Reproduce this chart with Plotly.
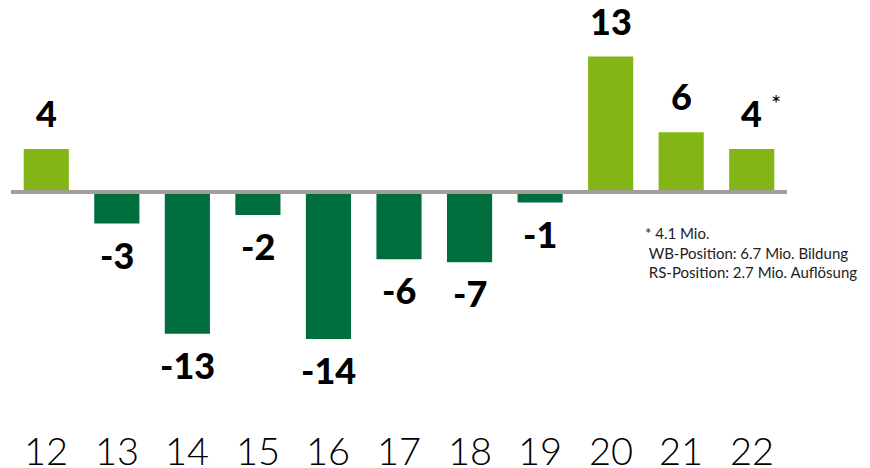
import plotly.graph_objects as go

categories = ["12", "13", "14", "15", "16", "17", "18", "19", "20", "21", "22"]
values = [4.1, -3.0, -13.5, -2.2, -14.0, -6.4, -6.7, -1.0, 12.9, 5.7, 4.1]
value_labels = ["4", "-3", "-13", "-2", "-14", "-6", "-7", "-1", "13", "6", "4"]
footnote_lines = ["* 4.1 Mio.", " WB-Position: 6.7 Mio. Bildung", " RS-Position: 2.7 Mio. Auflösung"]

LIGHT = "#84b516"
DARK = "#006d3f"
colors = [LIGHT if v >= 0 else DARK for v in values]

# page body has an 8px margin; the figure is sized to fit inside the window
OFF = 8
W, H = 870 - OFF, 468 - OFF
L, R, T, B = 11 - OFF, 870 - 787, 0, 40
plot_w, plot_h = W - L - R, H - T - B
zero_px = 192 - OFF
px_per_unit = 10.5

fig = go.Figure()
fig.add_trace(go.Bar(
    x=categories, y=values, marker=dict(color=colors, line=dict(width=0)),
    width=0.64, hoverinfo="skip",
))

for i, (v, t) in enumerate(zip(values, value_labels)):
    fig.add_annotation(
        x=i, y=v, text=t, showarrow=False,
        yanchor="bottom" if v >= 0 else "top",
        yshift=12 if v >= 0 else -7,
        font=dict(family="Lato", size=36, color="#000000", weight=900),
    )

# category labels under the chart
for i, c in enumerate(categories):
    fig.add_annotation(
        x=i, y=(H - (450 - OFF) - B) / plot_h, yref="paper", text=c, showarrow=False,
        yanchor="middle", font=dict(family="Lato", size=38, color="#000000", weight=300),
    )

# asterisk next to the last label
fig.add_annotation(x=len(categories) - 1, y=values[-1], text="*", showarrow=False,
                   xshift=24, yshift=30, yanchor="bottom",
                   font=dict(family="Lato", size=24, color="#000000"))

fig.add_annotation(
    xref="paper", yref="paper", x=(643 - OFF - L) / plot_w, y=(H - (222 - OFF) - B) / plot_h,
    xanchor="left", yanchor="top", align="left", showarrow=False,
    text="<br>".join(footnote_lines),
    font=dict(family="Lato", size=15, color="#222222"),
)

fig.add_shape(type="line", xref="x", yref="y", x0=-0.5, x1=10.5, y0=0, y1=0,
              line=dict(color="#a39e98", width=4), layer="above")

fig.update_layout(
    width=W, height=H,
    margin=dict(l=L, r=R, t=T, b=B),
    paper_bgcolor="white", plot_bgcolor="white",
    showlegend=False,
    xaxis=dict(
        type="category", range=[-0.5, 10.5], automargin=False,
        showgrid=False, zeroline=False, showline=False, ticks="",
        showticklabels=False,
    ),
    yaxis=dict(
        range=[-(plot_h - zero_px) / px_per_unit, zero_px / px_per_unit],
        automargin=False,
        showgrid=False, zeroline=False, showticklabels=False, showline=False,
    ),
)

fig.write_html("out.html")
